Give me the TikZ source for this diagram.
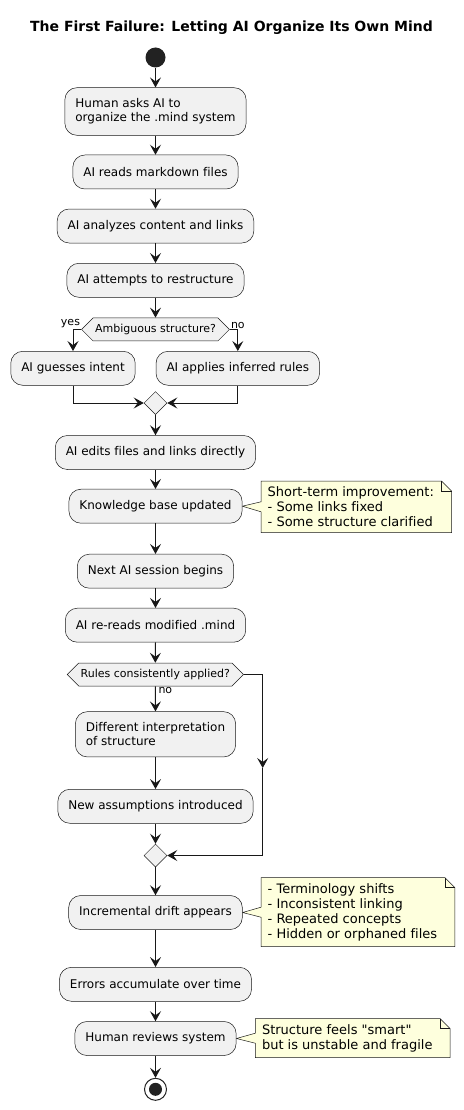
\documentclass[tikz,border=0pt]{standalone}
\usepackage{fontspec}
\setmainfont[Ligatures={TeXOff,CommonOff}]{DejaVu Sans}
\usetikzlibrary{arrows.meta,shapes.geometric,shapes.symbols,backgrounds}

\definecolor{linecol}{HTML}{181818}
\definecolor{boxfill}{HTML}{F1F1F1}
\definecolor{notefill}{HTML}{FEFFDD}
\definecolor{dotcol}{HTML}{222222}

\tikzset{
	action/.style={draw=linecol, line width=0.5pt, fill=boxfill, rounded corners=12pt,
			inner xsep=10.5pt, inner ysep=11pt, minimum height=34pt, align=left,
			font=\fontsize{12}{14}\selectfont},
	choice/.style={signal, signal to=west and east, signal pointer angle=90, draw=linecol,
			line width=0.5pt, fill=boxfill, minimum height=23pt, inner xsep=2pt, inner ysep=2pt,
			font=\fontsize{11}{13}\selectfont},
	merge/.style={diamond, draw=linecol, line width=0.5pt, fill=boxfill,
			minimum width=23pt, minimum height=23pt, inner sep=0pt},
	memo/.style={anchor=west, align=left, inner xsep=6.5pt, inner ysep=5.5pt,
			font=\fontsize{13}{15}\selectfont},
	flow/.style={draw=linecol, line width=1pt, -{Stealth[length=10pt, width=11pt, inset=4pt]}},
	tag/.style={font=\fontsize{11}{13}\selectfont, inner sep=1pt},
}

\begin{document}
\begin{tikzpicture}[x=1pt, y=-1pt]
		% Fixed canvas
		\useasboundingbox (0,0) rectangle (463,1110);

		% Title
		\node[font=\bfseries\fontsize{14}{16}\selectfont] (title) at (231.5,28)
			{The First Failure: Letting AI Organize Its Own Mind};

		% Start and first actions
		\node[circle, fill=dotcol, minimum size=20pt, inner sep=0pt] (start) at (155.5,57.5) {};
		\node[action] (ask) at (155.5,111.5) {Human asks AI to\\organize the .mind system};
		\node[action] (read) at (155.5,172) {AI reads markdown files};
		\node[action] (analyze) at (155.5,226) {AI analyzes content and links};
		\node[action] (attempt) at (155.5,280.3) {AI attempts to restructure};

		% First decision
		\node[choice] (dec1) at (155.5,329.4) {Ambiguous structure?};
		\node[action] (guess) at (73,368.3) {AI guesses intent};
		\node[action] (apply) at (237.8,368.3) {AI applies inferred rules};
		\node[merge] (merge1) at (155.5,403) {};

		% Middle actions
		\node[action] (edit) at (155.5,452.5) {AI edits files and links directly};
		\node[action] (kb) at (155.5,506.2) {Knowledge base updated};
		\node[action] (next) at (155.5,571.2) {Next AI session begins};
		\node[action] (reread) at (155.5,625.2) {AI re-reads modified .mind};

		% Second decision
		\node[choice] (dec2) at (155.3,674.5) {Rules consistently applied?};
		\node[action] (differ) at (155.5,734.3) {Different interpretation\\of structure};
		\node[action] (assume) at (155.5,806.3) {New assumptions introduced};
		\node[merge] (merge2) at (155.5,855.5) {};
		\coordinate (bend) at (262.7,768);

		% Last actions and end
		\node[action] (drift) at (155.5,912.5) {Incremental drift appears};
		\node[action] (errors) at (155.5,984.3) {Errors accumulate over time};
		\node[action] (review) at (155.5,1038.5) {Human reviews system};
		\node[circle, draw=dotcol, line width=1pt, fill=white, minimum size=22pt, inner sep=0pt] (stop) at (155.5,1089.3) {};
		\node[circle, fill=dotcol, minimum size=13pt, inner sep=0pt] (stopdot) at (stop) {};

		% Notes
		\node[memo] (shortterm) at (261,506.8) {Short-term improvement:\\- Some links fixed\\- Some structure clarified};
		\node[memo] (drifts) at (261,912.2) {- Terminology shifts\\- Inconsistent linking\\- Repeated concepts\\- Hidden or orphaned files};
		\node[memo] (verdict) at (255.3,1038.2) {Structure feels "smart"\\but is unstable and fragile};

		\begin{pgfonlayer}{background}
			\foreach \n/\b in {shortterm/kb, drifts/drift, verdict/review} {
					\draw[draw=linecol, line width=0.5pt, fill=notefill]
						(\n.north west) -- ([xshift=1pt]\n.north east)
						-- ([xshift=11pt, yshift=-10pt]\n.north east) -- ([xshift=11pt]\n.south east)
						-- (\n.south west) -- ([yshift=-5pt]\n.west) -- (\b.east)
						-- ([yshift=5pt]\n.west) -- cycle;
					\draw[draw=linecol, line width=0.5pt]
						([xshift=1pt]\n.north east) -- ([xshift=1pt, yshift=-10pt]\n.north east)
						-- ([xshift=11pt, yshift=-10pt]\n.north east);
				}
		\end{pgfonlayer}

		% Straight flow
		\foreach \a/\b in {start/ask, ask/read, read/analyze, analyze/attempt, attempt/dec1,
				merge1/edit, edit/kb, kb/next, next/reread, reread/dec2,
				dec2/differ, differ/assume, assume/merge2,
				merge2/drift, drift/errors, errors/review, review/stop} {
				\draw[flow] (\a.south) -- (\b.north);
			}

		% Branches
		\draw[flow] (dec1.west) -| (guess.north);
		\draw[flow] (dec1.east) -| (apply.north);
		\draw[flow] (guess.south) |- (merge1.west);
		\draw[flow] (apply.south) |- (merge1.east);
		\draw[flow] (dec2.east) -| (bend);
		\draw[flow] (bend) |- (merge2.east);

		% Branch labels
		\node[tag, anchor=south east] (yes1) at (dec1.west) {yes};
		\node[tag, anchor=south west] (no1) at (dec1.east) {no};
		\node[tag, anchor=north west, xshift=2pt] (no2) at (dec2.south) {no};
	\end{tikzpicture}
\end{document}
